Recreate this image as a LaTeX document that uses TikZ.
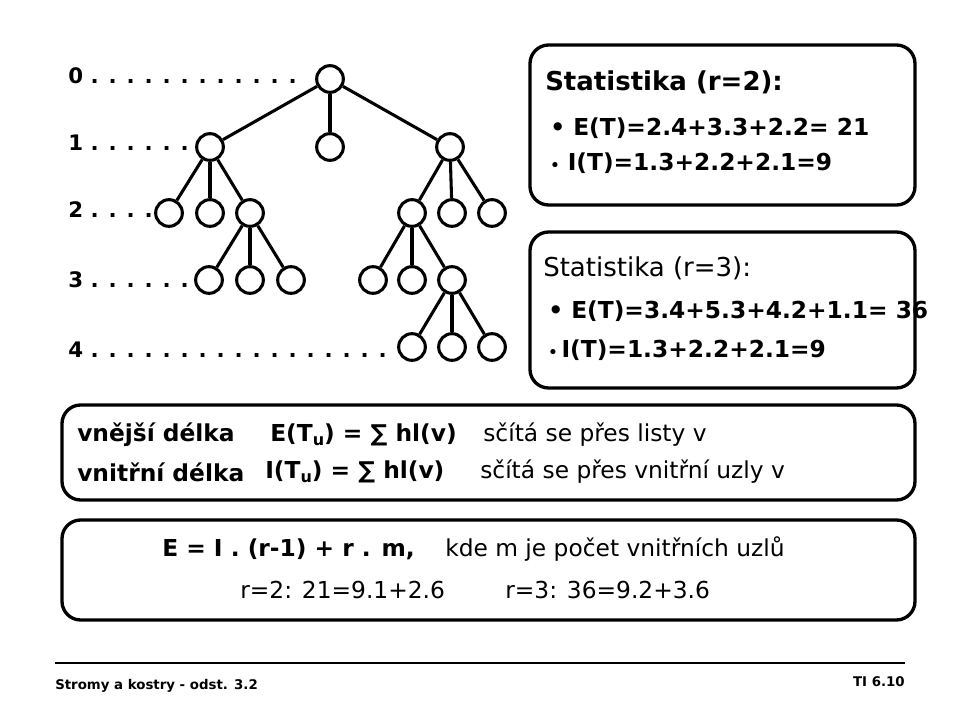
\documentclass[tikz,border=0pt]{standalone}
\usepackage{fontspec}
\setmainfont{DejaVu Sans}
\begin{document}
\begin{tikzpicture}[x=0.75pt,y=-0.75pt,
  uzel/.style={draw, circle, line width=2.3pt, minimum size=20pt, inner sep=0pt},
  hrana/.style={line width=2.3pt},
  ram/.style={draw, line width=2.5pt, rounded corners=14pt},
  txt/.style={anchor=west, inner sep=0pt, font=\fontsize{17.5}{20}\selectfont},
  btxt/.style={txt, font=\fontsize{17.5}{20}\selectfont\bfseries},
  lev/.style={anchor=west, inner sep=0pt, font=\fontsize{16}{19}\selectfont\bfseries}]
\useasboundingbox (0,0) rectangle (960,720);
% urovne
\node[lev] (l0) at (68,76) {0 . . . . . . . . . . . .};
\node[lev] (l1) at (68,143) {1 . . . . . .};
\node[lev] (l2) at (68,210) {2 . . . .};
\node[lev] (l3) at (68,280) {3 . . . . . .};
\node[lev] (l4) at (68,350) {4 . . . . . . . . . . . . . . . . .};
% strom
\node[uzel,fill=white] (r) at (330,79) {};
\node[uzel,fill=white] (a) at (210,147) {};
\node[uzel] (b) at (330,147) {};
\node[uzel] (c) at (450,147) {};
\node[uzel] (a1) at (169,213) {};
\node[uzel] (a2) at (210,213) {};
\node[uzel] (a3) at (250,213) {};
\node[uzel] (c1) at (412,213) {};
\node[uzel] (c2) at (452,213) {};
\node[uzel] (c3) at (492,213) {};
\node[uzel,fill=white] (a31) at (209,280) {};
\node[uzel] (a32) at (250,280) {};
\node[uzel] (a33) at (291,280) {};
\node[uzel] (c11) at (373,280) {};
\node[uzel] (c12) at (412,280) {};
\node[uzel] (c13) at (452,280) {};
\node[uzel] (d1) at (412,347) {};
\node[uzel] (d2) at (452,347) {};
\node[uzel] (d3) at (492,347) {};
\foreach \u/\v in {r/a,r/b,r/c,a/a1,a/a2,a/a3,c/c1,c/c2,c/c3,a3/a31,a3/a32,a3/a33,
                   c1/c11,c1/c12,c1/c13,c13/d1,c13/d2,c13/d3}
  \draw[hrana] (\u) -- (\v);
% statistiky
\draw[ram] (530,45) rectangle (915,205);
\node[btxt,font=\fontsize{19.5}{22}\selectfont\bfseries] (s2) at (545,82) {Statistika (r=2):};
\node[btxt] (s2e) at (550,128) {\textbullet\ E(T)=2.4+3.3+2.2= 21};
\node[btxt] (s2i) at (550,163) {{\fontsize{11}{12}\selectfont\textbullet}\ I(T)=1.3+2.2+2.1=9};
\draw[ram] (530,232) rectangle (915,388);
\node[txt,font=\fontsize{19.5}{22}\selectfont] (s3) at (543,268) {Statistika (r=3):};
\node[btxt] (s3e) at (548,311) {\textbullet\ E(T)=3.4+5.3+4.2+1.1= 36};
\node[btxt] (s3i) at (548,350) {{\fontsize{11}{12}\selectfont\textbullet}\,I(T)=1.3+2.2+2.1=9};
% delky
\draw[ram] (62,405) rectangle (915,500);
\node[btxt] (vd) at (77,435) {vnější délka};
\node[btxt] (ve) at (270,435) {E(T\raisebox{-0.35ex}{\fontsize{12}{12}\selectfont u}) = ∑ hl(v)};
\node[txt] (vs) at (483,435) {sčítá se přes listy v};
\node[btxt] (nd) at (77,472) {vnitřní délka};
\node[btxt] (ni) at (265,472) {I(T\raisebox{-0.35ex}{\fontsize{12}{12}\selectfont u}) = ∑ hl(v)};
\node[txt] (ns) at (480,472) {sčítá se přes vnitřní uzly v};
% vztah
\draw[ram] (62,520) rectangle (915,620);
\node[btxt] (f) at (162,549) {E = I . (r-1) + r . m,};
\node[txt] (fk) at (445,549) {kde m je počet vnitřních uzlů};
\node[txt] (p2) at (240,590) {r=2: 21=9.1+2.6};
\node[txt] (p3) at (505,590) {r=3: 36=9.2+3.6};
% paticka
\draw[line width=0.8pt] (55,663) -- (905,663);
\node[anchor=west, inner sep=0pt, font=\fontsize{10}{11}\selectfont\bfseries] (pl) at (55,686) {Stromy a kostry - odst. 3.2};
\node[anchor=east, inner sep=0pt, font=\fontsize{10}{11}\selectfont\bfseries] (pr) at (905,682) {TI 6.10};
\end{tikzpicture}
\end{document}
